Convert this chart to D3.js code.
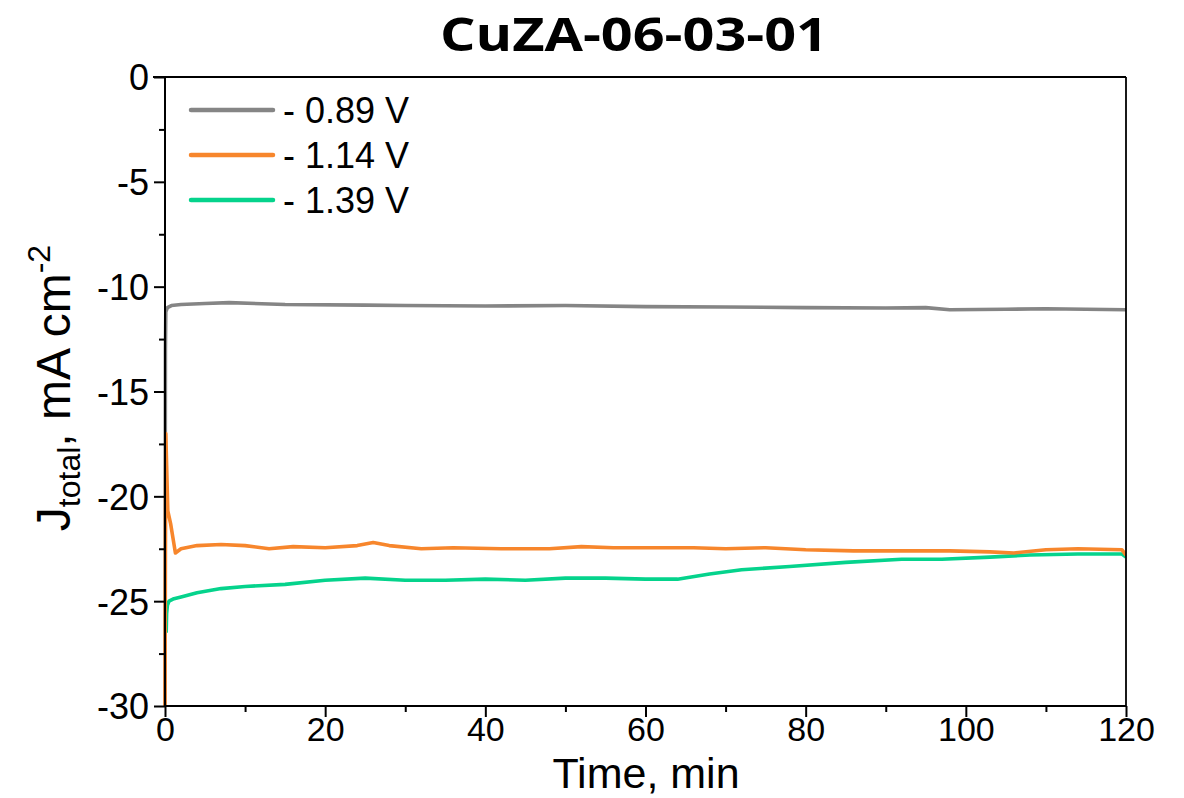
<!DOCTYPE html>
<html><head><meta charset="utf-8">
<script src="https://cdn.jsdelivr.net/npm/d3@7"></script>
<style>body{margin:0;background:#fff}svg{display:block}</style>
</head><body>
<svg id="c" width="1184" height="798"></svg>
<script>
const title = "CuZA-06-03-01";
const seriesNames = ["- 0.89 V", "- 1.14 V", "- 1.39 V"];
const seriesColors = ["#858585", "#f7862c", "#05d38c"];
const xTicks = [0, 20, 40, 60, 80, 100, 120];
const yTicks = [0, -5, -10, -15, -20, -25, -30];

const grayT = [0, 0.05, 0.1, 0.3, 0.8, 2, 5, 8, 15, 25, 30, 40, 50, 60, 70, 80, 90, 95, 98, 105, 110, 120];
const grayJ = [-30, -13, -11.2, -11.0, -10.9, -10.85, -10.8, -10.76, -10.85, -10.88, -10.9, -10.92, -10.9, -10.95, -10.97, -11.0, -11.02, -11.0, -11.1, -11.08, -11.05, -11.1];

const orangeT = [0, 0.05, 0.1, 0.2, 0.35, 0.7, 1.0, 1.3, 2, 4, 7, 10, 13, 16, 20, 24, 26, 28, 32, 36, 42, 48, 52, 56, 62, 66, 70, 75, 80, 86, 92, 98, 103, 106, 110, 114, 119.5, 120];
const orangeJ = [-30, -23, -17, -18.5, -20.7, -21.3, -22.0, -22.7, -22.5, -22.35, -22.3, -22.35, -22.5, -22.4, -22.45, -22.35, -22.2, -22.35, -22.5, -22.45, -22.5, -22.5, -22.4, -22.45, -22.45, -22.45, -22.5, -22.45, -22.55, -22.6, -22.6, -22.6, -22.65, -22.7, -22.55, -22.5, -22.55, -22.8];

const greenT = [0.15, 0.2, 0.3, 0.5, 1, 2, 4, 7, 10, 15, 20, 25, 30, 35, 40, 45, 50, 55, 60, 64, 68, 72, 78, 85, 92, 97, 103, 108, 114, 119.5, 120];
const greenJ = [-26.5, -25.6, -25.2, -25.0, -24.9, -24.8, -24.6, -24.4, -24.3, -24.2, -24.0, -23.9, -24.0, -24.0, -23.95, -24.0, -23.9, -23.9, -23.95, -23.95, -23.7, -23.5, -23.35, -23.15, -23.0, -23.0, -22.9, -22.8, -22.75, -22.75, -22.9];

const svg = d3.select("#c");
const m = {l:165, r:1126, t:77, b:706};
const x = d3.scaleLinear().domain([0,120]).range([m.l, m.r]);
const y = d3.scaleLinear().domain([-30,0]).range([m.b, m.t]);
const font = "'Liberation Sans', Arial, sans-serif";

// title
svg.append("text").attr("x", 634).attr("y", 51).attr("text-anchor","middle")
  .attr("font-family","'Open Sans', sans-serif").attr("font-weight",700).attr("font-size",47)
  .attr("textLength",388).attr("lengthAdjust","spacingAndGlyphs").text(title);

// lines
const data = [[grayT,grayJ],[orangeT,orangeJ],[greenT,greenJ]];
const line = d3.line().x(d=>x(d[0])).y(d=>y(d[1]));
const order = [0,2,1];
svg.append("clipPath").attr("id","cp").append("rect")
  .attr("x",m.l-2).attr("y",m.t).attr("width",m.r-m.l+2).attr("height",m.b-m.t);
order.forEach(i=>{
  const pts = data[i][0].map((t,k)=>[t,data[i][1][k]]);
  svg.append("path").attr("d", line(pts)).attr("fill","none")
    .attr("stroke", seriesColors[i]).attr("stroke-width",3.6).attr("stroke-linejoin","round")
    .attr("clip-path","url(#cp)");
});

// frame
svg.append("line").attr("x1",m.l-12).attr("x2",m.r).attr("y1",m.t).attr("y2",m.t).attr("stroke","#000").attr("stroke-width",1.8);
svg.append("line").attr("x1",m.r).attr("x2",m.r).attr("y1",m.t).attr("y2",m.b).attr("stroke","#000").attr("stroke-width",1.8);

// axes
const yAxis = svg.append("g").attr("transform",`translate(${m.l},0)`)
  .call(d3.axisLeft(y).tickValues(yTicks).tickSize(11).tickPadding(5).tickFormat(d=>d===0?"0":String(d).replace("\u2212","-")));
yAxis.selectAll("text").attr("font-family",font).attr("font-size",36).attr("fill","#000").attr("dy","0.36em");
const yMinor = svg.append("g").attr("transform",`translate(${m.l},0)`)
  .call(d3.axisLeft(y).tickValues([-2.5,-7.5,-12.5,-17.5,-22.5,-27.5]).tickSize(6).tickFormat(""));
yMinor.select(".domain").remove();

const xAxis = svg.append("g").attr("transform",`translate(0,${m.b})`)
  .call(d3.axisBottom(x).tickValues(xTicks).tickSize(11).tickPadding(0));
xAxis.selectAll("text").attr("font-family",font).attr("font-size",34).attr("fill","#000");
const xMinor = svg.append("g").attr("transform",`translate(0,${m.b})`)
  .call(d3.axisBottom(x).tickValues([10,30,50,70,90,110]).tickSize(6).tickFormat(""));
xMinor.select(".domain").remove();
svg.selectAll(".domain").attr("stroke-width",2);
svg.selectAll(".tick line").attr("stroke-width",2);
yAxis.select(".domain").attr("d",`M0,${m.t}V${m.b}`);
xAxis.select(".domain").attr("d",`M${m.l},0H${m.r}`);

// axis titles
svg.append("text").attr("x",646).attr("y",788).attr("text-anchor","middle")
  .attr("font-family",font).attr("font-size",43).text("Time, min");
const yl = svg.append("text").attr("transform","translate(70,388) rotate(-90)").attr("text-anchor","middle")
  .attr("font-family",font).attr("font-size",48);
yl.append("tspan").text("J");
yl.append("tspan").attr("font-size",32).attr("dy",10).text("total");
yl.append("tspan").attr("dy",-10).text(", mA cm");
yl.append("tspan").attr("font-size",32).attr("dy",-20).text("-2");

// legend
seriesNames.forEach((n,i)=>{
  const ly = 110 + i*45;
  svg.append("line").attr("x1",191).attr("x2",273).attr("y1",ly).attr("y2",ly)
    .attr("stroke",seriesColors[i]).attr("stroke-width",4.5).attr("stroke-linecap","round");
  svg.append("text").attr("x",283).attr("y",ly+13).attr("font-family",font).attr("font-size",36).text(n);
});
</script>
</body></html>
